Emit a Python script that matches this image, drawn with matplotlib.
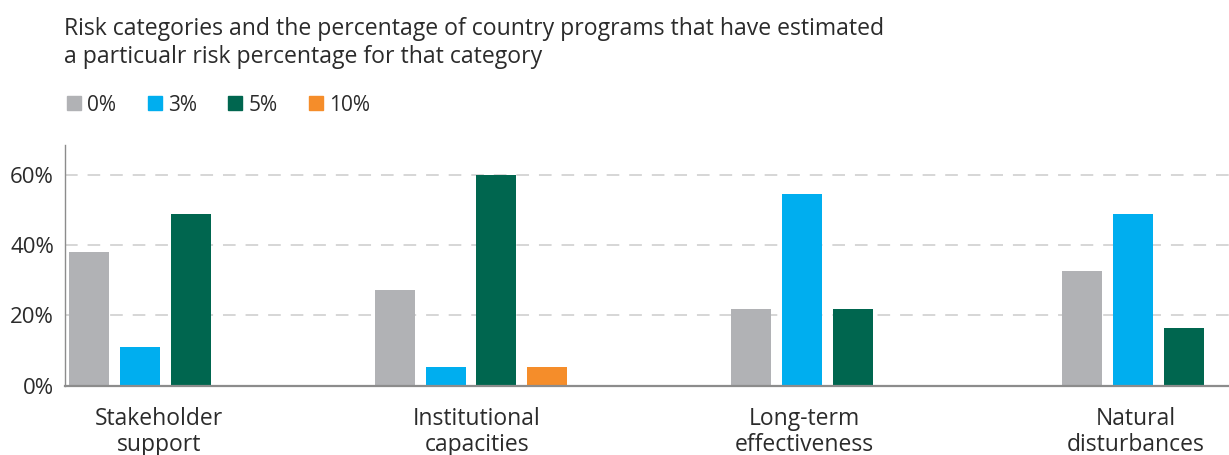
import matplotlib
matplotlib.use("Agg")
import matplotlib.pyplot as plt
from matplotlib.lines import Line2D

plt.rcParams['font.family'] = ['Open Sans', 'DejaVu Sans']

# data (percent of country programs)
categories = ["Stakeholder\nsupport", "Institutional\ncapacities",
              "Long-term\neffectiveness", "Natural\ndisturbances"]
series = ["0%", "3%", "5%", "10%"]
val_0 = [38.1, 27.2, 21.8, 32.7]
val_3 = [11.0, 5.3, 54.6, 48.9]
val_5 = [48.9, 60.0, 21.8, 16.4]
val_10 = [None, 5.3, None, None]
colors = ["#b1b2b5", "#00aeef", "#00664f", "#f58d2a"]
yticks = [0, 20, 40, 60]

values = [val_0, val_3, val_5, val_10]
text_col = "#2b2b2b"

fig = plt.figure(figsize=(12.29, 4.55), dpi=100)
ax_rect = [0.0529, 0.1523, 0.9471, 0.529]
ax = fig.add_axes(ax_rect)
xlim = (-0.2266, 3.29)

bar_w = 0.121
pitch = 0.153

for i in range(len(categories)):
    present = [s for s in range(len(series)) if values[s][i] is not None]
    k = len(present)
    for j, s in enumerate(present):
        x = i + (j - (k - 1) / 2) * pitch
        ax.bar(x, values[s][i], width=bar_w, color=colors[s], zorder=3)

ax.set_xlim(*xlim)
ax.set_ylim(0, 68.5)
ax.set_yticks(yticks)
ax.set_yticklabels([f"{t}%" for t in yticks])

# category labels sit a little right of the bar groups in the original
label_nudge_px = [19, 6, 2, 3]
px_per_unit = ax_rect[2] * fig.get_figwidth() * fig.dpi / (xlim[1] - xlim[0])
ax.set_xticks([i + dx / px_per_unit for i, dx in enumerate(label_nudge_px)])
ax.set_xticklabels(categories, linespacing=1.14)

for t in yticks[1:]:
    ax.axhline(t, color="#d3d3d3", lw=1.3, dashes=(7, 5.5), zorder=1)

for side in ["top", "right"]:
    ax.spines[side].set_visible(False)
ax.spines["left"].set_color("#8c8c8c")
ax.spines["left"].set_linewidth(1.0)
ax.spines["bottom"].set_color("#8c8c8c")
ax.spines["bottom"].set_linewidth(1.6)
ax.spines["bottom"].set_zorder(4)

ax.tick_params(axis="y", length=0, pad=8, labelsize=16, labelcolor=text_col)
ax.tick_params(axis="x", length=0, pad=15, labelsize=16.5, labelcolor=text_col)

fig.text(0.052, 0.962,
         "Risk categories and the percentage of country programs that have estimated\n"
         "a particualr risk percentage for that category",
         ha="left", va="top", fontsize=16.6, color=text_col, linespacing=1.2)

handles = [Line2D([], [], marker="s", linestyle="none", markersize=10,
                  markerfacecolor=c, markeredgecolor=c) for c in colors]
fig.legend(handles, series, loc="center left", bbox_to_anchor=(0.0545, 0.769),
           ncol=4, frameon=False, fontsize=15, labelcolor=text_col,
           handlelength=0.68, handletextpad=0.3, columnspacing=1.5,
           borderaxespad=0, borderpad=0)

fig.savefig("out.png", dpi=100)
